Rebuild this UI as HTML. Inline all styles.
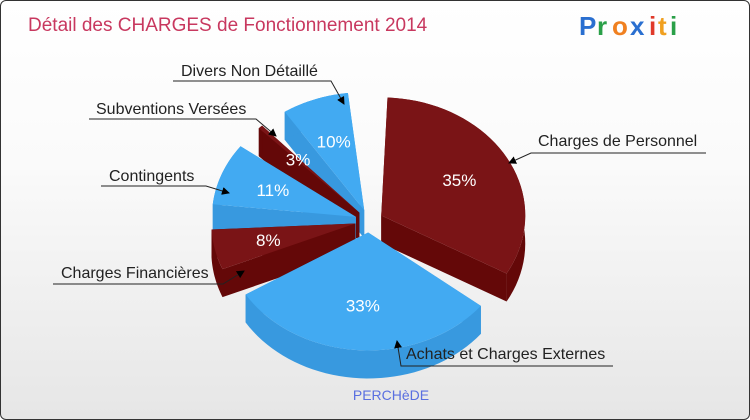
<!DOCTYPE html>
<html><head><meta charset="utf-8"><style>
body{margin:0}
#w{position:relative;width:748px;height:418px;border:1px solid #333;border-radius:6px;overflow:hidden;background:linear-gradient(#ffffff,#fafafa 40%,#e6e6e6);font-family:"Liberation Sans",sans-serif}
</style></head><body>
<div id="w">
<svg width="748" height="418">
<text x="27" y="30" font-size="19" fill="#c8385f">Détail des CHARGES de Fonctionnement 2014</text>
<g font-size="26" font-weight="bold"><text x="578" y="34" fill="#2a6fd0">P</text><text x="596" y="34" fill="#2aa048">r</text><text x="611" y="34" fill="#f08020">o</text><text x="629" y="34" fill="#2a6fd0">x</text><text x="648" y="34" fill="#e03a2a">i</text><text x="657" y="34" fill="#f0a020">t</text><text x="669" y="34" fill="#2aa048">i</text></g>
<g id="pie"></g><g id="lab"></g>
<text x="390" y="399" font-size="14" fill="#5a6fe0" text-anchor="middle">PERCHèDE</text>
</svg></div>
<script>
const categories=["Charges de Personnel","Achats et Charges Externes","Charges Financières","Contingents","Subventions Versées","Divers Non Détaillé"];
const values=[35,33,8,11,3,10];
const labels=["35%","33%","8%","11%","3%","10%"];
const colors=[["#7a1416","#640808"],["#42aaf2","#3899df"],["#7a1416","#640808"],["#42aaf2","#3899df"],["#7a1416","#640808"],["#42aaf2","#3899df"]];
const NS="http://www.w3.org/2000/svg";
const cx=368,cy=220,rx=144,ry=118,D=28,E=14,GAP=9*Math.PI/180;
const pie=document.getElementById('pie');
function pt(a,r,ox,oy,dy){return [ox+r*rx*Math.cos(a),oy+r*ry*Math.sin(a)+(dy||0)];}
function mk(t,at){const e=document.createElementNS(NS,t);for(const k in at)e.setAttribute(k,at[k]);return e;}
const tot=values.reduce((a,b)=>a+b,0);
let a0=-92*Math.PI/180;const sl=[];
values.forEach((v,i)=>{const a1=a0+v/tot*2*Math.PI;const m=(a0+a1)/2;sl.push({i,a0:a0+GAP/2,a1:a1-GAP/2,m,ox:cx+E*Math.cos(m),oy:cy+E*Math.sin(m)*ry/rx});a0=a1;});
function arc(s,dy,n){const p=[];for(let k=0;k<=n;k++){const a=s.a0+(s.a1-s.a0)*k/n;p.push(pt(a,1,s.ox,s.oy,dy));}return p;}
sl.slice().sort((a,b)=>Math.sin(a.m)-Math.sin(b.m)).forEach(s=>{
 const g=mk('g',{});
 
 
 const top=arc(s,0,40),bot=arc(s,D,40);
 const c0=[s.ox,s.oy],c1=[s.ox,s.oy+D];
 const side=colors[s.i][1];
 [[c0,top[0],bot[0],c1],[c0,top[40],bot[40],c1]].forEach(q=>g.appendChild(mk('polygon',{points:q.map(p=>p.join(',')).join(' '),fill:side})));
 g.appendChild(mk('polygon',{points:top.concat(bot.slice().reverse()).map(p=>p.join(',')).join(' '),fill:side}));
 g.appendChild(mk('polygon',{points:[c0].concat(top).map(p=>p.join(',')).join(' '),fill:colors[s.i][0]}));
 const lp=pt(s.m,0.62,s.ox,s.oy);
 const t=mk('text',{x:lp[0],y:lp[1]+6,'font-size':17,fill:'#fff','text-anchor':'middle'});
 
 
 t.textContent=labels[s.i];g.appendChild(t);
 pie.appendChild(g);
});
const lab=document.getElementById('lab');
lab.appendChild(mk('defs',{})).innerHTML='<marker id="ar" markerWidth="8" markerHeight="8" refX="7" refY="4" orient="auto"><path d="M0,0L8,4L0,8z" fill="#000"/></marker>';
const leaders=[[537,145,"start",[[705,152],[530,152],[508,162]]],[405,358,"start",[[612,365],[400,365],[396,340]]],[60,277,"start",[[52,283],[222,283],[243,270]]],[108,180,"start",[[100,185],[205,185],[228,192]]],[95,113,"start",[[88,118],[255,118],[275,135]]],[180,75,"start",[[172,80],[330,80],[343,103]]]];
leaders.forEach((l,i)=>{
 const p=mk('polyline',{points:l[3].map(q=>q.join(',')).join(' '),fill:'none',stroke:'#222','stroke-width':1,'marker-end':'url(#ar)'});
 
 
 lab.appendChild(p);
 const t=mk('text',{x:l[0],y:l[1],'font-size':16,fill:'#222'});
 
 
 t.textContent=categories[i];lab.appendChild(t);
});
</script>
</body></html>
